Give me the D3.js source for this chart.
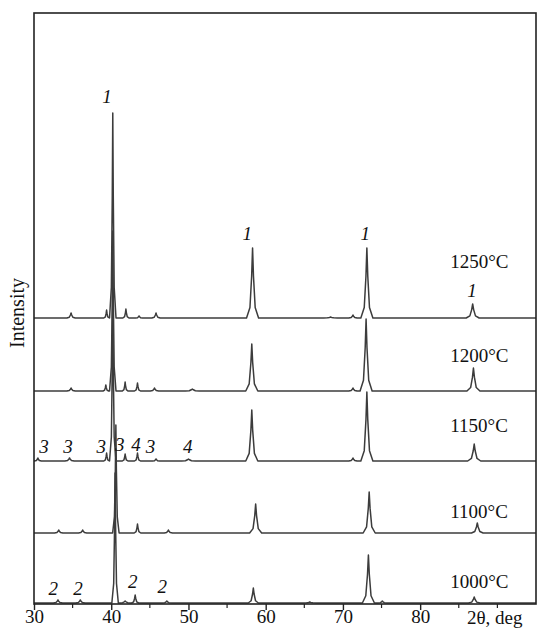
<!DOCTYPE html>
<html><head><meta charset="utf-8">
<script src="https://cdn.jsdelivr.net/npm/d3@7"></script>
<style>
html,body{margin:0;padding:0;background:#fff;}
svg{display:block;font-family:"Liberation Serif","Times New Roman",serif;}
</style></head>
<body><svg id="c" width="539" height="636"></svg>
<script>
// ---- data (2θ in deg, intensity in arbitrary units) ----
const xTickLabels = [30, 40, 50, 60, 70, 80];
const xMinorTicks = [35, 45, 55, 65, 75, 85, 90];
const seriesNames = ["1000°C", "1100°C", "1150°C", "1200°C", "1250°C"];
const seriesOffsets = [1, 71, 143, 213, 286];
// peaks: [2θ, height, half-width]
const peaks1000 = [[33.1,3,0.2],[36.0,3,0.2],[40.5,130,0.14],[41.8,2,0.25],[43.1,8,0.15],[47.2,2,0.2],[58.4,15,0.22],[65.7,1,0.3],[73.3,48,0.26],[75.1,2,0.2],[87.0,6,0.25]];
const peaks1100 = [[33.2,3,0.18],[36.3,3,0.18],[40.6,108,0.14],[43.4,9,0.14],[47.4,3,0.18],[58.7,29,0.26],[73.4,41,0.26],[87.4,10,0.25]];
const peaks1150 = [[30.5,3,0.15],[34.6,3,0.2],[39.4,8,0.12],[40.2,160,0.14],[41.8,7,0.12],[43.4,8,0.13],[45.8,2,0.15],[50.0,2,0.3],[58.2,51,0.26],[71.3,3,0.18],[73.1,69,0.26],[87.0,17,0.28]];
const peaks1200 = [[34.8,3,0.18],[39.3,6,0.12],[40.2,160,0.14],[41.8,9,0.12],[43.4,8,0.13],[45.6,3,0.18],[50.5,2,0.3],[58.2,47,0.26],[71.3,3,0.18],[73.0,72,0.26],[86.9,23,0.28]];
const peaks1250 = [[34.8,5,0.18],[39.4,8,0.12],[40.2,205,0.14],[41.9,9,0.13],[43.6,2,0.15],[45.8,5,0.18],[58.3,70,0.26],[68.4,1,0.3],[71.3,3,0.18],[73.1,70,0.26],[86.8,14,0.28]];
const allPeaks = [peaks1000, peaks1100, peaks1150, peaks1200, peaks1250];
// temperature label anchors: [2θ, intensity]
const tempLabelPos = [[83.9,16],[83.9,86],[83.9,172],[83.9,242],[83.9,336]];
// phase labels: [text, 2θ, intensity]
const phaseLabels = [
  ["1",39.45,501],["1",57.6,364],["1",72.9,364],["1",86.7,307],
  ["3",31.3,151],["3",34.4,151],["3",38.7,151],["3",41.1,153],["4",43.2,153],["3",45.1,151],["4",49.9,151],
  ["2",32.5,9],["2",35.7,9],["2",42.8,16],["2",46.6,11]
];

// ---- chart ----
const svg = d3.select("#c");
const x = d3.scaleLinear().domain([30, 95]).range([34, 536]);
const y = d3.scaleLinear().domain([0, 591]).range([604, 13]);

function tracePoints(peaks, off) {
  const pts = [[30, off]];
  peaks.forEach(([p, h, w]) => {
    pts.push([p - 3*w, off], [p - 1.3*w, off + 0.15*h], [p - 0.45*w, off + 0.6*h], [p, off + h],
             [p + 0.45*w, off + 0.6*h], [p + 1.3*w, off + 0.15*h], [p + 3*w, off]);
  });
  pts.push([95, off]);
  return pts.sort((a, b) => a[0] - b[0]);
}
const line = d3.line().x(d => x(d[0])).y(d => y(d[1]));

svg.append("g").selectAll("path").data(allPeaks).join("path")
  .attr("d", (pk, i) => line(tracePoints(pk, seriesOffsets[i])))
  .attr("fill", "none").attr("stroke", "#3c3c3c").attr("stroke-width", 1.5)
  .attr("stroke-linejoin", "round");

// frame
svg.append("rect").attr("x", x(30)).attr("y", y(591)).attr("width", x(95) - x(30)).attr("height", y(0) - y(591))
  .attr("fill", "none").attr("stroke", "#222").attr("stroke-width", 1.6);

// x axis
const ax = d3.axisBottom(x).tickValues(xTickLabels).tickSize(6).tickPadding(0).tickFormat(d3.format("d"));
const gx = svg.append("g").attr("transform", `translate(0,${y(0)})`).call(ax);
gx.select(".domain").remove();
gx.selectAll(".tick line").attr("stroke", "#222").attr("stroke-width", 1.4);
gx.selectAll(".tick text").attr("font-size", 19).attr("fill", "#111").attr("font-family", "Liberation Serif, Times New Roman, serif");
const gm = svg.append("g").attr("transform", `translate(0,${y(0)})`);
gm.selectAll("line").data(xMinorTicks).join("line")
  .attr("x1", d => x(d)).attr("x2", d => x(d)).attr("y1", 0).attr("y2", 4)
  .attr("stroke", "#222").attr("stroke-width", 1.2);

svg.append("text").attr("x", 467).attr("y", 624).attr("font-size", 19).attr("fill", "#111").text("2θ, deg");
svg.append("text").attr("transform", "translate(24,313) rotate(-90)").attr("text-anchor", "middle")
  .attr("font-size", 20).attr("fill", "#111").text("Intensity");

// temperature labels
svg.append("g").selectAll("text").data(seriesNames).join("text")
  .attr("x", (d, i) => x(tempLabelPos[i][0])).attr("y", (d, i) => y(tempLabelPos[i][1]))
  .attr("font-size", 19).attr("fill", "#111").text(d => d);

// phase labels
svg.append("g").selectAll("text").data(phaseLabels).join("text")
  .attr("x", d => x(d[1])).attr("y", d => y(d[2])).attr("text-anchor", "middle")
  .attr("font-size", 19).attr("font-style", "italic").attr("fill", "#111").text(d => d[0]);
</script></body></html>
